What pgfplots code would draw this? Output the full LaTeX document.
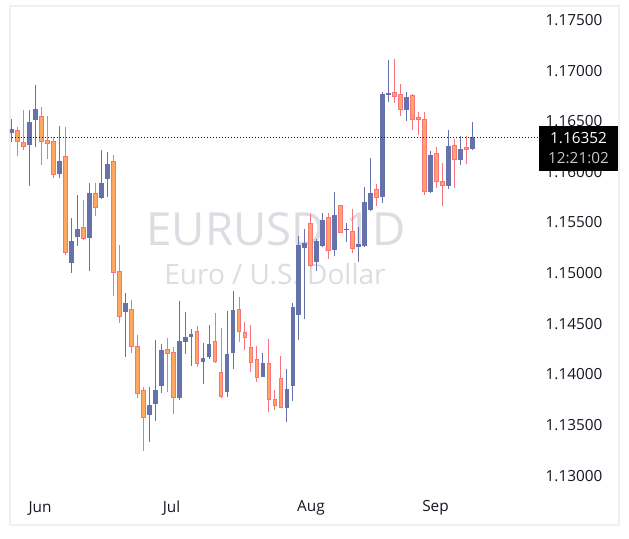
\documentclass[border=0pt]{standalone}
\usepackage{fontspec}
\setmainfont{Open Sans}
\usepackage{pgfplots}
\usepackage{pgfplotstable}
\pgfplotsset{compat=1.18}

\definecolor{bull}{HTML}{6673AB}
\definecolor{bearfill}{HTML}{FFA75E}
\definecolor{bearline}{HTML}{F7737F}
\definecolor{wmark}{HTML}{DCDDE2}
\definecolor{frame}{HTML}{F0F0F0}
\definecolor{txt}{HTML}{131722}

% daily candles, i = bar index
\pgfplotstableread{
i  O       H       L       C
0  1.16395 1.16533 1.16306 1.16434
3  1.16276 1.16622 1.15871 1.16503
4  1.16523 1.16868 1.16256 1.16631
8  1.15990 1.16464 1.15950 1.16118
10 1.15111 1.15556 1.15013 1.15329
11 1.15368 1.15783 1.15279 1.15447
13 1.15358 1.15901 1.15032 1.15802
15 1.15753 1.16227 1.15743 1.15901
16 1.15940 1.16207 1.15763 1.16089
19 1.14628 1.14815 1.14184 1.14717
23 1.13611 1.13888 1.13345 1.13710
24 1.13720 1.14351 1.13552 1.13858
25 1.13897 1.14312 1.13828 1.14253
28 1.13779 1.14736 1.13759 1.14342
29 1.14332 1.14628 1.14213 1.14381
30 1.14381 1.14460 1.14095 1.14411
32 1.14134 1.14322 1.13917 1.14174
33 1.14184 1.14500 1.14164 1.14312
36 1.13838 1.14638 1.13789 1.14213
37 1.14223 1.14835 1.14065 1.14648
42 1.13986 1.14223 1.13986 1.14124
46 1.13680 1.14065 1.13542 1.13868
47 1.13897 1.14717 1.13749 1.14677
48 1.14598 1.15378 1.14351 1.15289
49 1.15260 1.15447 1.14559 1.15309
51 1.15121 1.15348 1.15032 1.15329
52 1.15279 1.15605 1.15270 1.15536
54 1.15240 1.15812 1.15180 1.15585
56 1.15437 1.15506 1.15319 1.15447
58 1.15270 1.15467 1.15121 1.15299
59 1.15279 1.15862 1.15270 1.15714
60 1.15635 1.16148 1.15625 1.15802
62 1.15763 1.16799 1.15704 1.16780
63 1.16770 1.17115 1.16700 1.16790
66 1.16622 1.16799 1.16513 1.16750
70 1.15812 1.16217 1.15802 1.16177
73 1.15871 1.16424 1.15842 1.16266
75 1.16128 1.16365 1.16079 1.16237
77 1.16237 1.16503 1.16227 1.16352
}\bulltab

\pgfplotstableread{
i  O       H       L       C
1  1.16414 1.16454 1.16168 1.16316
2  1.16296 1.16622 1.16227 1.16266
5  1.16552 1.16651 1.16079 1.16316
6  1.16316 1.16562 1.16138 1.16296
7  1.16306 1.16355 1.15950 1.15990
9  1.16158 1.16454 1.15190 1.15220
12 1.15457 1.15733 1.15338 1.15358
14 1.15792 1.15901 1.15575 1.15664
17 1.16108 1.16177 1.14786 1.15023
18 1.15023 1.15289 1.14519 1.14588
20 1.14648 1.14746 1.14223 1.14292
21 1.14282 1.14401 1.13779 1.13828
22 1.13848 1.13888 1.13256 1.13591
26 1.14253 1.14371 1.13838 1.14223
27 1.14223 1.14282 1.13621 1.13789
31 1.14430 1.14490 1.14085 1.14124
34 1.14332 1.14618 1.14124 1.14144
35 1.14026 1.14470 1.13779 1.13799
38 1.14648 1.14776 1.14332 1.14440
39 1.14420 1.14529 1.14253 1.14381
40 1.14273 1.14500 1.14036 1.14134
41 1.14154 1.14292 1.13937 1.13986
43 1.14115 1.14361 1.13641 1.13769
44 1.13759 1.13858 1.13661 1.13710
45 1.13967 1.14194 1.13690 1.13690
50 1.15496 1.15595 1.15072 1.15092
53 1.15556 1.15605 1.15151 1.15240
55 1.15674 1.15684 1.15407 1.15417
57 1.15417 1.15644 1.15210 1.15260
61 1.15832 1.15891 1.15674 1.15763
64 1.16790 1.17125 1.16690 1.16760
65 1.16770 1.16878 1.16562 1.16631
67 1.16760 1.16780 1.16424 1.16533
68 1.16538 1.16602 1.16375 1.16528
69 1.16523 1.16602 1.15783 1.15822
71 1.16187 1.16256 1.15852 1.15921
72 1.15911 1.16098 1.15674 1.15881
74 1.16266 1.16335 1.15852 1.16138
76 1.16242 1.16365 1.16089 1.16232
}\beartab

\begin{document}
\begin{tikzpicture}
% background, frame and watermark (pixel units)
\begin{scope}[x=0.75pt,y=-0.75pt]
  \fill[white] (0,0) rectangle (629,539);
  \path[use as bounding box] (0,0) rectangle (629,539);
  \draw[frame, line width=1.5pt] (10,6) rectangle (619,525);
  \node[wmark, font=\fontsize{34.2}{40}\selectfont, anchor=base, inner sep=0pt] at (276,245) {EURUSD, 1D};
  \node[wmark, font=\fontsize{21}{24}\selectfont, anchor=base, inner sep=0pt] at (275,284) {Euro / U.S. Dollar};
\end{scope}

\begin{axis}[
  at={(7.5pt,-367.5pt)}, anchor=south west,
  scale only axis, width=396.75pt, height=362.25pt,
  xmin=-0.284, xmax=88.15,
  ymin=1.128688, ymax=1.176382,
  axis line style={draw=none},
  major tick length=0pt,
  xtick={4.73,26.71,50.03,70.85},
  xticklabels={Jun,Jul,Aug,Sep},
  xticklabel style={anchor=center, yshift=-13.5pt, text=txt,
    font=\fontsize{11.5}{13}\selectfont},
  ytick={1.130,1.135,1.140,1.145,1.150,1.155,1.160,1.165,1.170,1.175},
  yticklabels={1.13000,1.13500,1.14000,1.14500,1.15000,1.15500,1.16000,1.16500,1.17000,1.17500},
  yticklabel pos=right,
  yticklabel style={anchor=center, xshift=26.25pt, yshift=0.75pt, text=txt,
    font=\fontsize{11.5}{13}\selectfont},
]
  % wicks
  \addplot[draw=bull, line width=0.75pt, quiver={u=0, v=\thisrow{H}-\thisrow{L}}]
    table[x=i, y=L] {\bulltab};
  \addplot[draw=bearline, line width=0.75pt, quiver={u=0, v=\thisrow{H}-\thisrow{L}}]
    table[x=i, y=L] {\beartab};
  % bodies
  \addplot[draw=bull, line width=3.5pt, quiver={u=0, v=\thisrow{C}-\thisrow{O}}]
    table[x=i, y=O] {\bulltab};
  \addplot[draw=bearline, line width=3.5pt, quiver={u=0, v=\thisrow{O}-\thisrow{C}+0.0002}]
    table[x=i, y expr=\thisrow{C}-0.0001] {\beartab};
  \addplot[draw=bearfill, line width=2pt, quiver={u=0, v=\thisrow{O}-\thisrow{C}}]
    table[x=i, y=C] {\beartab};
  % last price line
  \addplot[draw=txt, line width=0.75pt, dash pattern=on 0.75pt off 1.5pt]
    coordinates {(-1,1.16352) (89,1.16352)};
\end{axis}

% last price label
\begin{scope}[x=0.75pt,y=-0.75pt]
  \fill[black] (539,126) rectangle (618,171);
  \node[white, font=\fontsize{11.5}{13}\selectfont] at (578.5,138) {1.16352};
  \node[text=black!22, font=\fontsize{11.5}{13}\selectfont] at (578.5,158) {12:21:02};
\end{scope}
\end{tikzpicture}
\end{document}
